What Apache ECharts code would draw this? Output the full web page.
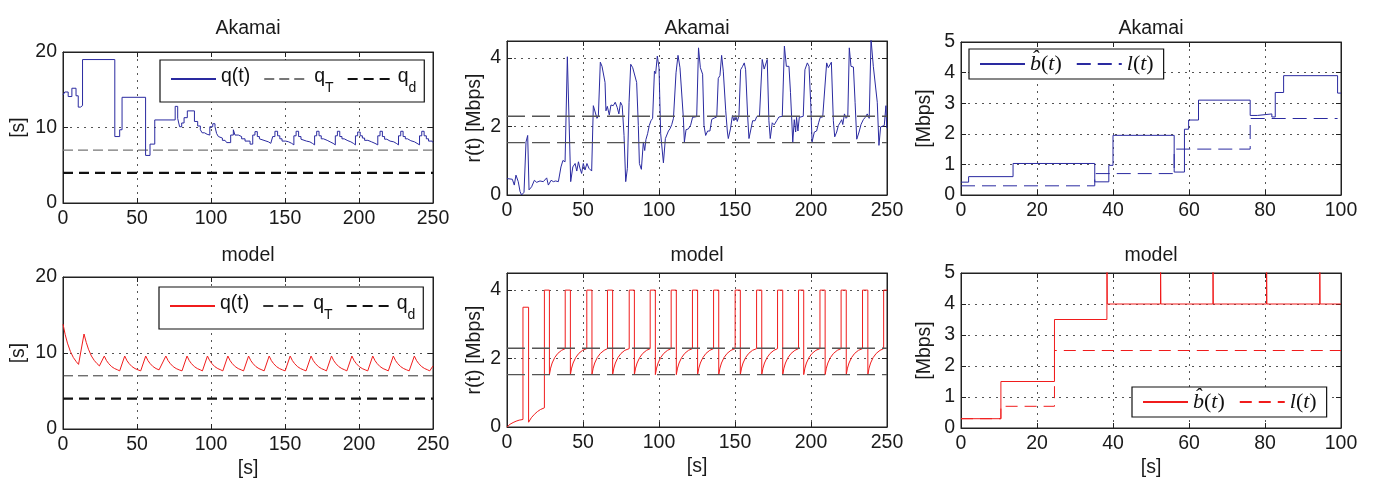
<!DOCTYPE html>
<html><head><meta charset="utf-8">
<script src="https://cdn.jsdelivr.net/npm/echarts@6/dist/echarts.min.js"></script>
<style>html,body{margin:0;padding:0;background:#fff}#c{width:1373px;height:481px}</style>
</head><body><div id="c"></div>
<script>
// ---------- data ----------
const titles = ['Akamai','Akamai','Akamai','model','model','model'];
const qT = 7, qd = 4;          // queue thresholds [s]
const rHi = 2.3, rLo = 1.53;   // rate thresholds [Mbps]

// Akamai q(t) (step, value holds until next time)
const qAk = [[0,14.3],[1.2,14.7],[3.5,14.1],[6,15.2],[8.8,14.2],[10.3,12.7],[11.8,12.9],[13.2,19.0],
[35,8.8],[38.3,9.7],[39.9,14.0],[55.8,6.3],[58.8,7.8],[62,11.0],
[75.8,12.8],[77.5,11.2],[78.8,10.1],[80.2,10.6],[81.8,11.3],[84,12.2],
[88.8,10.8],[91,10.2],[92.8,9.7],[94,9.3],[95.6,9.1],[97.4,9.0],
[99.2,10.1],[101.2,10.5],[102.7,10.1],[103.8,9.2],[105,8.8],[106.1,8.6],[107.7,8.3],[109.5,8.1],[110.6,8.0],
[113.3,9.0],[115.1,9.7],[116.2,9.0],[118.5,8.8],[120.7,8.5],[123,8.2],[126.4,7.8],
[128.2,9.0],[129.7,9.45],[131.3,8.8],[132.7,8.5],[133.8,8.25],[136.5,8.1],[138.8,7.9],[140.4,7.7],
[141.7,8.8],[143.2,9.5],[145,8.9],[146.5,8.5],[148,8.2],[150.5,8.1],[152.5,7.9],[154.5,7.7],
[156,8.9],[157.5,9.5],[159.2,8.8],[160.8,8.45],[162,8.2],[164.5,8.1],[166.8,7.9],[168.5,7.7],
[170,8.9],[171.4,9.5],[173,8.9],[174.5,8.5],[176,8.3],[178.5,8.1],[180.5,7.9],[182.5,7.7],
[184,8.9],[185.4,9.5],[187,8.8],[188.5,8.5],[190,8.25],[192.5,8.1],[194.5,7.9],[196.2,7.7],
[197.6,8.9],[199.1,9.4],[200.8,8.9],[202.3,8.6],[203.8,8.3],[206,8.1],[208.5,7.9],[210.8,7.7],
[212.7,8.9],[214.2,9.5],[215.8,8.8],[217.3,8.45],[218.8,8.2],[221,8.1],[223.5,7.9],[225.2,7.7],
[226.7,8.9],[228.2,9.5],[229.8,8.8],[231.3,8.5],[232.8,8.25],[235,8.1],[237.5,7.9],[239.2,7.7],
[240.9,8.9],[242.4,9.5],[244,8.9],[245.5,8.5],[247,8.2],[249.4,8.0],[250,8.0]];

// Akamai r(t) [Mbps]
const rAk = [[0,0.48],[3.5,0.46],[4.8,0.29],[5.9,0.58],[7.4,0.39],[8.6,0.1],[9.6,0.0],[11.2,0.08],[12.5,1.55],[13.6,1.74],[14.5,0.15],[16.2,0.24],[18,0.43],[19.5,0.37],[21.7,0.41],[23.9,0.39],[26.1,0.5],[27.2,0.29],[29,0.43],[30.5,0.39],[32,0.41],[33.8,0.39],[35.5,0.82],[36.8,1.01],[38.2,0.97],[39.7,4.04],[41.9,0.39],[43.3,0.82],[44.8,0.92],[45.9,0.7],[47,0.97],[48,0.78],[49.1,0.63],[50.2,0.92],[51.3,0.73],[52.6,0.92],[53.9,0.78],[55.7,0.7],[56.8,2.61],[57.9,2.56],[59.2,2.24],[60.1,2.3],[61.4,3.88],[62.5,3.76],[63.4,3.76],[64.5,3.29],[65.1,2.46],[66,2.59],[67.3,2.34],[68.4,2.63],[69.9,2.61],[71.2,2.71],[72.5,2.56],[73.6,2.37],[74.7,2.71],[75.8,2.61],[77,1.74],[78.1,0.39],[79.2,0.78],[80.3,2.71],[81.4,3.82],[82.7,3.72],[84,3.69],[85.3,3.29],[86.4,2.03],[87.1,0.92],[88.4,0.75],[89.7,1.55],[90.6,1.3],[91.4,1.62],[92.5,1.79],[93.6,2.03],[94.7,2.17],[95.8,2.24],[97,3.62],[97.8,3.55],[98.9,4.06],[100,3.72],[101.1,1.79],[102.9,0.94],[104.2,1.65],[105.1,1.6],[106.2,1.87],[107.3,1.94],[108.4,2.06],[109.5,2.24],[111.2,3.57],[112.5,4.08],[113.8,3.72],[115,3.72],[116,2.27],[116.7,1.55],[117.8,1.91],[119.3,1.93],[120.8,2.04],[122.1,2.27],[124.8,2.29],[126,4.3],[127.2,3.72],[128.7,3.53],[129.6,2.03],[130.7,1.74],[132,1.87],[133.5,1.87],[134.7,2.21],[136.4,2.25],[138,2.28],[139,3.41],[140.1,3.49],[141.2,4.08],[142.3,3.62],[143.9,2.46],[145,1.84],[145.6,1.65],[147,1.93],[148.3,2.32],[149.3,2.17],[150.4,2.32],[151.5,2.15],[152.6,2.32],[153.7,3.66],[155,3.76],[156.1,3.86],[157,3.66],[158.3,2.32],[159.2,1.65],[160.3,1.7],[161.6,2.17],[163.2,2.17],[164.3,2.29],[166.1,2.3],[167.9,3.96],[169.2,3.68],[170.3,3.7],[171.2,3.96],[172.3,2.17],[173.2,1.65],[174.5,2.11],[175.8,2.05],[177.4,2.17],[178.9,2.28],[181.1,2.3],[182.5,4.35],[183.8,3.76],[185.5,3.76],[186.5,3.0],[188,1.55],[189,2.2],[189.9,1.84],[190.5,2.27],[191.4,1.87],[192.3,2.27],[193.4,2.3],[194.9,2.3],[196,3.66],[197.6,3.86],[198.7,3.76],[199.8,2.7],[200.7,1.55],[202.2,1.84],[203.7,1.87],[205,2.11],[206.1,2.27],[207.7,2.28],[208.8,2.3],[210.3,3.86],[211.4,3.72],[212.5,3.72],[213.4,3.88],[214.7,2.17],[215.6,1.7],[216.9,1.84],[218,2.03],[219.1,2.11],[220.2,2.2],[220.9,2.06],[222,2.37],[223.1,2.24],[224.2,2.3],[225.2,4.3],[226.3,3.76],[227.9,3.74],[229,2.71],[230.1,1.63],[231.6,1.84],[232.9,2.06],[234.4,2.2],[235.7,2.27],[237,2.37],[238.3,2.24],[239.5,4.55],[241,3.76],[242.3,3.72],[243.6,2.71],[244.7,1.45],[245.8,1.99],[247.1,2.03],[248.2,2.03],[249.3,2.61],[249.8,1.99],[250,1.95]];

// Akamai b-hat(t) and l(t) (step)
const bAk = [[0,0.42],[2,0.6],[13.7,1.03],[35.2,0.43],[38.9,0.97],[40,1.95],[56.1,0.75],[58.8,2.15],[59.9,2.45],[62.5,3.1],[76.1,2.6],[78,2.65],[81.8,2.55],[82.7,3.35],[84.9,3.9],[99.1,3.33],[100,3.33]];
const lAk = [[0,0.3],[35.2,0.7],[56.1,1.5],[76.1,2.5],[99.1,2.5]];

// model q(t)
const qMd = [[0,13.8],[1.5,12.4],[3,11.3],[5,10.2],[7,9.4],[9,8.85],[10.5,8.5],
[14.2,12.5],[15.7,11.4],[17.2,10.5],[19.2,9.6],[21.2,9.0],[23,8.6],[24.6,8.3],
[27.9,9.6],[29.4,9.0],[30.9,8.6],[32.9,8.2],[34.9,7.95],[36.9,7.78],[38.3,7.65],
[41.7,9.6],[43.2,9.0],[44.7,8.6],[46.7,8.2],[48.7,7.95],[50.7,7.78],[52.5,7.65],
[55.9,9.6],[57.4,9.0],[58.9,8.6],[60.9,8.2],[62.9,7.95],[64.9,7.78],[66.1,7.65],
[69.5,9.6],[71,9.0],[72.5,8.6],[74.5,8.2],[76.5,7.95],[78.5,7.78],[80.4,7.65],
[83.8,9.6],[85.3,9.0],[86.8,8.6],[88.8,8.2],[90.8,7.95],[92.8,7.78],[94.2,7.65],
[97.6,9.6],[99.1,9.0],[100.6,8.6],[102.6,8.2],[104.6,7.95],[106.6,7.78],[108,7.65],
[111.4,9.6],[112.9,9.0],[114.4,8.6],[116.4,8.2],[118.4,7.95],[120.4,7.78],[122,7.65],
[125.4,9.6],[126.9,9.0],[128.4,8.6],[130.4,8.2],[132.4,7.95],[134.4,7.78],[135.9,7.65],
[139.3,9.6],[140.8,9.0],[142.3,8.6],[144.3,8.2],[146.3,7.95],[148.3,7.78],[150.1,7.65],
[153.5,9.6],[155,9.0],[156.5,8.6],[158.5,8.2],[160.5,7.95],[162.5,7.78],[164.2,7.65],
[167.6,9.6],[169.1,9.0],[170.6,8.6],[172.6,8.2],[174.6,7.95],[176.6,7.78],[178,7.65],
[181.4,9.6],[182.9,9.0],[184.4,8.6],[186.4,8.2],[188.4,7.95],[190.4,7.78],[191.8,7.65],
[195.2,9.6],[196.7,9.0],[198.2,8.6],[200.2,8.2],[202.2,7.95],[204.2,7.78],[205.9,7.65],
[209.3,9.6],[210.8,9.0],[212.3,8.6],[214.3,8.2],[216.3,7.95],[218.3,7.78],[219.8,7.65],
[223.2,9.6],[224.7,9.0],[226.2,8.6],[228.2,8.2],[230.2,7.95],[232.2,7.78],[233.9,7.65],
[237.4,9.6],[238.9,9.0],[240.4,8.6],[242.4,8.2],[244.4,7.95],[246.4,7.78],[247.8,7.65],
[250,8.3]];

// model r(t)
const rMd = [[0,0],[2,0.08],[4,0.13],[6,0.17],[8,0.2],[10.5,0.22],[10.5,3.5],[14.2,3.5],[14.2,0.14],[16,0.27],[18,0.37],[20,0.45],[22,0.51],[24.6,0.56],
[24.6,4],[27.9,4],[27.9,1.53],[28.7,1.72],[29.7,1.87],[31.4,2.03],[33.4,2.15],[35.9,2.24],[38.3,2.29],
[38.3,4],[41.7,4],[41.7,1.53],[42.5,1.72],[43.5,1.87],[45.2,2.03],[47.2,2.15],[49.7,2.24],[52.5,2.29],
[52.5,4],[55.9,4],[55.9,1.53],[56.7,1.72],[57.7,1.87],[59.4,2.03],[61.4,2.15],[63.9,2.24],[66.1,2.29],
[66.1,4],[69.5,4],[69.5,1.53],[70.3,1.72],[71.3,1.87],[73,2.03],[75,2.15],[77.5,2.24],[80.4,2.29],
[80.4,4],[83.8,4],[83.8,1.53],[84.6,1.72],[85.6,1.87],[87.3,2.03],[89.3,2.15],[91.8,2.24],[94.2,2.29],
[94.2,4],[97.6,4],[97.6,1.53],[98.4,1.72],[99.4,1.87],[101.1,2.03],[103.1,2.15],[105.6,2.24],[108,2.29],
[108,4],[111.4,4],[111.4,1.53],[112.2,1.72],[113.2,1.87],[114.9,2.03],[116.9,2.15],[119.4,2.24],[122,2.29],
[122,4],[125.4,4],[125.4,1.53],[126.2,1.72],[127.2,1.87],[128.9,2.03],[130.9,2.15],[133.4,2.24],[135.9,2.29],
[135.9,4],[139.3,4],[139.3,1.53],[140.1,1.72],[141.1,1.87],[142.8,2.03],[144.8,2.15],[147.3,2.24],[150.1,2.29],
[150.1,4],[153.5,4],[153.5,1.53],[154.3,1.72],[155.3,1.87],[157,2.03],[159,2.15],[161.5,2.24],[164.2,2.29],
[164.2,4],[167.6,4],[167.6,1.53],[168.4,1.72],[169.4,1.87],[171.1,2.03],[173.1,2.15],[175.6,2.24],[178,2.29],
[178,4],[181.4,4],[181.4,1.53],[182.2,1.72],[183.2,1.87],[184.9,2.03],[186.9,2.15],[189.4,2.24],[191.8,2.29],
[191.8,4],[195.2,4],[195.2,1.53],[196,1.72],[197,1.87],[198.7,2.03],[200.7,2.15],[203.2,2.24],[205.9,2.29],
[205.9,4],[209.3,4],[209.3,1.53],[210.1,1.72],[211.1,1.87],[212.8,2.03],[214.8,2.15],[217.3,2.24],[219.8,2.29],
[219.8,4],[223.2,4],[223.2,1.53],[224,1.72],[225,1.87],[226.7,2.03],[228.7,2.15],[231.2,2.24],[233.9,2.29],
[233.9,4],[237.4,4],[237.4,1.53],[238.2,1.72],[239.2,1.87],[240.9,2.03],[242.9,2.15],[245.4,2.24],[247.8,2.29],
[247.8,4],[250,4]];

// model b-hat(t) and l(t) (step)
const bMd = [[0,0.3],[10.5,1.5],[24.6,3.5],[38.4,6],[38.5,4],[52.5,6],[52.6,4],[66.3,6],[66.4,4],[80.4,6],[80.5,4],[94.4,6],[94.5,4],[100,4]];
const lMd = [[0,0.3],[10.5,0.7],[24.6,2.5],[100,2.5]];

// ---------- style ----------
const FONT = '"Liberation Sans", Arial, sans-serif';
const SERIF = '"Liberation Serif", "DejaVu Serif", serif';
const FS = 19.5;
const BLUE = '#2a2aa0', RED = '#f01c1c';
const grids = [
  {left:63, top:52, width:370, height:151},
  {left:507, top:41, width:380, height:154},
  {left:961, top:42, width:380, height:153},
  {left:63, top:277, width:370, height:152},
  {left:507, top:273, width:380, height:154},
  {left:961, top:273, width:380, height:155}
];
const xr = [[0,250,50],[0,250,50],[0,100,20],[0,250,50],[0,250,50],[0,100,20]];
const yr = [[0,20,10],[0,4.5,2],[0,5,1],[0,20,10],[0,4.5,2],[0,5,1]];
const yNames = ['[s]','r(t) [Mbps]','[Mbps]','[s]','r(t) [Mbps]','[Mbps]'];
const yGaps = [34,22,26,34,22,26];

const xAxis = [], yAxis = [];
grids.forEach((g,i)=>{
  const bottom = i>=3;
  xAxis.push({type:'value', gridIndex:i, min:xr[i][0], max:xr[i][1], interval:xr[i][2],
    axisLine:{show:true,onZero:false,lineStyle:{color:'#222',width:1}},
    axisTick:{show:true,inside:true,length:5,lineStyle:{color:'#222'}},
    axisLabel:{show:true,color:'#1a1a1a',fontSize:FS,fontFamily:FONT,margin:6},
    splitLine:{show:true,lineStyle:{color:'#555',type:[2,5],width:1}},
    name: bottom?'[s]':'', nameLocation:'middle', nameGap:30, nameMoveOverlap:false,
    nameTextStyle:{color:'#1a1a1a',fontSize:FS,fontFamily:FONT}});
  yAxis.push({type:'value', gridIndex:i, min:yr[i][0], max:yr[i][1], interval:yr[i][2],
    axisLine:{show:true,onZero:false,lineStyle:{color:'#222',width:1}},
    axisTick:{show:true,inside:true,length:5,lineStyle:{color:'#222'}},
    axisLabel:{show:true,color:'#1a1a1a',fontSize:FS,fontFamily:FONT,margin:6,
      formatter:(v)=> (Math.abs(v/yr[i][2]-Math.round(v/yr[i][2]))<1e-6 ? String(v) : '')},
    splitLine:{show:true,lineStyle:{color:'#555',type:[2,5],width:1}},
    name:yNames[i], nameLocation:'middle', nameGap:yGaps[i], nameMoveOverlap:false,
    nameTextStyle:{color:'#1a1a1a',fontSize:FS,fontFamily:FONT}});
});
// mirror axes for top/right ticks
grids.forEach((g,i)=>{
  xAxis.push({type:'value', gridIndex:i, position:'top', min:xr[i][0], max:xr[i][1], interval:xr[i][2],
    axisLine:{show:true,onZero:false,lineStyle:{color:'#222'}}, axisTick:{show:true,inside:true,length:5,lineStyle:{color:'#222'}},
    axisLabel:{show:false}, splitLine:{show:false}});
  yAxis.push({type:'value', gridIndex:i, position:'right', min:yr[i][0], max:yr[i][1], interval:yr[i][2],
    axisLine:{show:true,onZero:false,lineStyle:{color:'#222'}}, axisTick:{show:true,inside:true,length:5,lineStyle:{color:'#222'}},
    axisLabel:{show:false}, splitLine:{show:false}});
});

function line(name, gi, data, color, opts) {
  return Object.assign({name, type:'line', xAxisIndex:gi, yAxisIndex:gi, data, symbol:'none', showSymbol:false,
    animation:false, silent:true, lineStyle:{color, width:1}, itemStyle:{color}}, opts||{});
}
function hline(name, gi, v, color, width, dash, z) {
  return line(name, gi, [[xr[gi][0],v],[xr[gi][1],v]], color, {lineStyle:{color, width, type:dash}, z:z||1});
}

const series = [
  hline('qTA',0,qT,'#777',1.2,[10,5]),
  hline('qdA',0,qd,'#111',2.2,[10,6]),
  line('qA',0,qAk,BLUE,{step:'end', z:3}),
  line('rA',1,rAk,BLUE,{z:2}),
  hline('rHiA',1,rHi,'#555',1.4,[18,7],3),
  hline('rLoA',1,rLo,'#555',1.4,[18,7],3),
  line('bA',2,bAk,BLUE,{step:'end'}),
  line('lA',2,lAk,BLUE,{step:'end', lineStyle:{color:BLUE,width:1,type:[14,7]}}),
  hline('qTM',3,qT,'#333',1,[10,5]),
  hline('qdM',3,qd,'#111',2.2,[10,6]),
  line('qM',3,qMd,RED,{z:3}),
  line('rM',4,rMd,RED,{z:2}),
  hline('rHiM',4,rHi,'#555',1.4,[18,7],3),
  hline('rLoM',4,rLo,'#555',1.4,[18,7],3),
  line('bM',5,bMd,RED,{step:'end'}),
  line('lM',5,lMd,RED,{step:'end', lineStyle:{color:RED,width:1,type:[12,7]}})
];

const labels = {
  qA:'{m|q(t)}', qTA:'{m|q}{s|T}', qdA:'{m|q}{s|d}',
  qM:'{m|q(t)}', qTM:'{m|q}{s|T}', qdM:'{m|q}{s|d}',
  bA:'{i|b\u0302}{n|(}{i|t}{n|)}', lA:'{i|l}{n|(}{i|t}{n|)}',
  bM:'{i|b\u0302}{n|(}{i|t}{n|)}', lM:'{i|l}{n|(}{i|t}{n|)}'
};
const rich = {
  m:{fontSize:FS, fontFamily:FONT, color:'#111', lineHeight:24, verticalAlign:'top'},
  s:{fontSize:14, fontFamily:FONT, color:'#111', lineHeight:14, padding:[14,0,0,0], verticalAlign:'top'},
  i:{fontSize:22, fontFamily:SERIF, fontStyle:'italic', color:'#111'},
  n:{fontSize:22, fontFamily:SERIF, color:'#111'}
};
function legend(data, left, top, gap, pad) {
  return {data, left, top, orient:'horizontal', selectedMode:false, itemWidth:45, itemHeight:14,
    itemGap:gap, padding:pad, backgroundColor:'#fff', borderColor:'#111', borderWidth:1.2,
    itemStyle:{opacity:0, borderWidth:0},
    formatter:(n)=>labels[n], textStyle:{fontSize:FS, fontFamily:FONT, color:'#111', rich}};
}

const title = titles.map((t,i)=>({text:t, left:grids[i].left+grids[i].width/2, textAlign:'center',
  top: i<3 ? 19 : 246, padding:0,
  textStyle:{fontSize:FS, fontWeight:'normal', fontFamily:FONT, color:'#1a1a1a'}}));

const option = {
  animation:false,
  backgroundColor:'#fff',
  title,
  grid: grids.map(g=>Object.assign({show:true, borderColor:'#222', borderWidth:1, backgroundColor:'#fff', containLabel:false}, g)),
  xAxis, yAxis,
  legend:[
    legend(['qA','qTA','qdA'],160,60,13,[7,8,7,10]),
    legend(['bA','lA'],969,49,14,[4,10,4,10]),
    legend(['qM','qTM','qdM'],159,287,13,[7,8,7,10]),
    legend(['bM','lM'],1132,387,14,[4,10,4,10])
  ],
  series
};
const chart = echarts.init(document.getElementById('c'), null, {renderer:'canvas'});
chart.setOption(option);
</script></body></html>
